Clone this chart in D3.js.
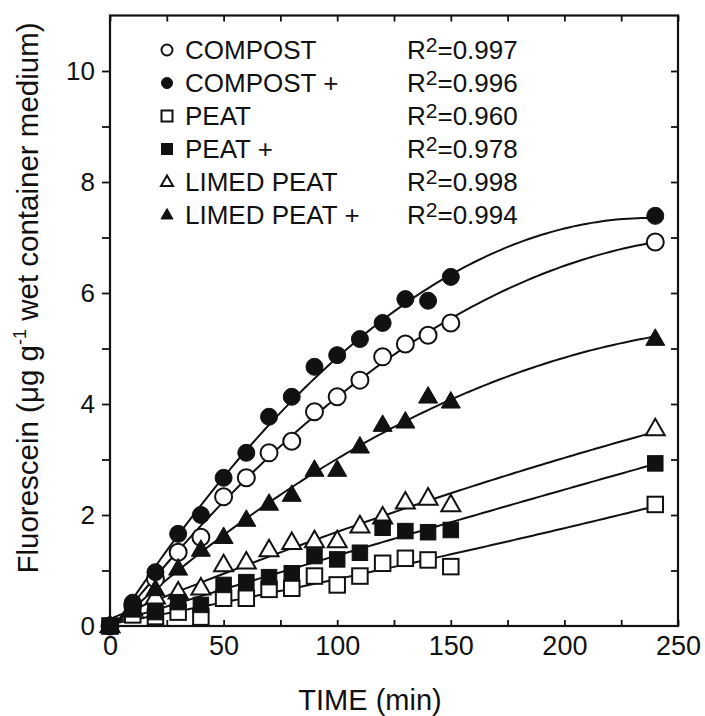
<!DOCTYPE html>
<html>
<head>
<meta charset="utf-8">
<script src="https://cdn.jsdelivr.net/npm/d3@7"></script>
<style>
  body { margin: 0; background: #fff; }
  text { font-family: "Liberation Sans", Arial, sans-serif; fill: #111; }
</style>
</head>
<body>
<div id="chart"></div>
<script>
// sampling times (min)
const times = [0, 10, 20, 30, 40, 50, 60, 70, 80, 90, 100, 110, 120, 130, 140, 150, 240]

// fluorescein values
const compost      = [0, 0.38, 0.85, 1.33, 1.60, 2.33, 2.67, 3.12, 3.33, 3.86, 4.13, 4.43, 4.85, 5.08, 5.24, 5.46, 6.92]
const compostPlus  = [0, 0.42, 0.97, 1.66, 2.00, 2.67, 3.12, 3.77, 4.13, 4.67, 4.88, 5.17, 5.46, 5.89, 5.86, 6.29, 7.39]
const peat         = [0, 0.20, 0.17, 0.25, 0.16, 0.50, 0.50, 0.66, 0.68, 0.90, 0.74, 0.90, 1.13, 1.22, 1.19, 1.07, 2.19]
const peatPlus     = [0, 0.30, 0.25, 0.43, 0.38, 0.74, 0.79, 0.88, 0.95, 1.26, 1.20, 1.32, 1.77, 1.71, 1.69, 1.73, 2.93]
const limedPeat    = [0, 0.30, 0.52, 0.61, 0.68, 1.10, 1.15, 1.37, 1.50, 1.53, 1.53, 1.80, 1.96, 2.23, 2.30, 2.18, 3.55]
const limedPeatPlus= [0, 0.32, 0.66, 1.03, 1.37, 1.60, 1.91, 2.20, 2.36, 2.81, 2.81, 3.23, 3.62, 3.68, 4.13, 4.04, 5.17]

const seriesNames = ["COMPOST", "COMPOST +", "PEAT", "PEAT +", "LIMED PEAT", "LIMED PEAT +"]
const seriesShapes = ["circle", "circle", "square", "square", "triangle", "triangle"]
const seriesFilled = [false, true, false, true, false, true]
const rSquared = ["0.997", "0.996", "0.960", "0.978", "0.998", "0.994"]
const seriesValues = [compost, compostPlus, peat, peatPlus, limedPeat, limedPeatPlus]

const xTicks = [0, 25, 50, 75, 100, 125, 150, 175, 200, 225, 250]
const yTicks = [0, 1, 2, 3, 4, 5, 6, 7, 8, 9, 10, 11]

const MARGIN = {TOP: 15.5, RIGHT: 27, BOTTOM: 90, LEFT: 110}
const WIDTH = 705 - MARGIN.LEFT - MARGIN.RIGHT
const HEIGHT = 716 - MARGIN.TOP - MARGIN.BOTTOM

const svg = d3.select("#chart").append("svg")
  .attr("width", 705)
  .attr("height", 716)

const g = svg.append("g")
  .attr("transform", `translate(${MARGIN.LEFT}, ${MARGIN.TOP})`)

const x = d3.scaleLinear().domain([0, 250]).range([0, WIDTH])
const y = d3.scaleLinear().domain([0, 11]).range([HEIGHT, 0])

// bottom axis: ticks point inward, labels every 50
g.append("g")
  .attr("transform", `translate(0, ${HEIGHT})`)
  .call(d3.axisBottom(x).tickValues(xTicks).tickSizeInner(-6).tickSizeOuter(0).tickPadding(8)
    .tickFormat(function(d) { return d % 50 === 0 ? d : "" }))
  .call(a => a.select(".domain").remove())
  .selectAll("text").attr("font-size", "27px").attr("dy", "0.78em")

// top axis ticks (inward)
g.append("g")
  .call(d3.axisTop(x).tickValues(xTicks).tickSizeInner(-6).tickSizeOuter(0).tickFormat(""))
  .call(a => a.select(".domain").remove())

// left axis: outward ticks, labels every 2
g.append("g")
  .call(d3.axisLeft(y).tickValues(yTicks.slice(0, 11)).tickSizeInner(8).tickSizeOuter(0).tickPadding(7)
    .tickFormat(function(d) { return d % 2 === 0 ? d : "" }))
  .call(a => a.select(".domain").remove())
  .selectAll("text").attr("font-size", "26px")

// right axis ticks (inward)
g.append("g")
  .attr("transform", `translate(${WIDTH}, 0)`)
  .call(d3.axisRight(y).tickValues(yTicks.slice(1, 11)).tickSizeInner(-7).tickSizeOuter(0).tickFormat(""))
  .call(a => a.select(".domain").remove())

g.selectAll(".tick line").attr("stroke", "#111").attr("stroke-width", 1.8)

// frame
g.append("rect")
  .attr("width", WIDTH)
  .attr("height", HEIGHT)
  .attr("fill", "none")
  .attr("stroke", "#111")
  .attr("stroke-width", 2.2)

// axis titles
g.append("text")
  .attr("x", WIDTH / 2 - 24)
  .attr("y", HEIGHT + 84)
  .attr("font-size", "29px")
  .attr("text-anchor", "middle")
  .text("TIME (min)")

const yTitle = svg.append("text")
  .attr("transform", "translate(38, 298) rotate(-90)")
  .attr("font-size", "29.5px")
  .attr("text-anchor", "middle")
yTitle.append("tspan").text("Fluorescein (\u03BCg g")
yTitle.append("tspan").attr("font-size", "18px").attr("dy", -12).text("-1")
yTitle.append("tspan").attr("dy", 12).text(" wet container medium)")

// quadratic least-squares fit used for the trend lines
function quadFit(xs, ys) {
  let s = [0, 0, 0, 0, 0], t = [0, 0, 0]
  xs.forEach(function(xv, i) {
    for (let k = 0; k < 5; k++) s[k] += Math.pow(xv, k)
    for (let k = 0; k < 3; k++) t[k] += ys[i] * Math.pow(xv, k)
  })
  const m = [[s[0], s[1], s[2], t[0]], [s[1], s[2], s[3], t[1]], [s[2], s[3], s[4], t[2]]]
  for (let i = 0; i < 3; i++) {
    for (let j = i + 1; j < 3; j++) {
      const f = m[j][i] / m[i][i]
      for (let k = i; k < 4; k++) m[j][k] -= f * m[i][k]
    }
  }
  const c = [0, 0, 0]
  for (let i = 2; i >= 0; i--) {
    let v = m[i][3]
    for (let k = i + 1; k < 3; k++) v -= m[i][k] * c[k]
    c[i] = v / m[i][i]
  }
  return function(xv) { return c[0] + c[1] * xv + c[2] * xv * xv }
}

const line = d3.line()
  .x(function(d) { return x(d[0]) })
  .y(function(d) { return y(d[1]) })

const tSamples = d3.range(0, 240.1, 2)
seriesValues.forEach(function(vals) {
  const f = quadFit(times, vals)
  g.append("path")
    .datum(tSamples.map(function(t) { return [t, f(t)] }))
    .attr("d", line)
    .attr("fill", "none")
    .attr("stroke", "#111")
    .attr("stroke-width", 2)
})

function marker(sel, shape, filled, size) {
  let p
  if (shape === "circle") {
    p = sel.append("circle").attr("r", size / 2)
  } else if (shape === "square") {
    p = sel.append("rect").attr("x", -size / 2).attr("y", -size / 2).attr("width", size).attr("height", size)
  } else {
    const h = size * 0.87
    p = sel.append("path").attr("d", `M0,${-h * 0.62}L${size / 2},${h * 0.38}L${-size / 2},${h * 0.38}Z`)
  }
  p.attr("fill", filled ? "#111" : "#fff")
    .attr("stroke", "#111")
    .attr("stroke-width", filled ? 1 : 2)
}

const drawOrder = [0, 2, 4, 5, 1, 3]
const markerSize = {circle: 17, square: 15.5, triangle: 19}
drawOrder.forEach(function(si) {
  seriesValues[si].forEach(function(v, i) {
    const mg = g.append("g").attr("transform", `translate(${x(times[i])}, ${y(v)})`)
    marker(mg, seriesShapes[si], seriesFilled[si], markerSize[seriesShapes[si]])
  })
})

// legend
const legendSize = {circle: 11, square: 11, triangle: 12}
seriesNames.forEach(function(name, i) {
  const cy = 50 + i * 33 - MARGIN.TOP
  const lg = g.append("g").attr("transform", `translate(57, ${cy})`)
  marker(lg, seriesShapes[i], seriesFilled[i], legendSize[seriesShapes[i]])
  g.append("text")
    .attr("x", 75)
    .attr("y", cy + 9)
    .attr("font-size", "26px")
    .text(name)
  const rt = g.append("text")
    .attr("x", 297)
    .attr("y", cy + 9)
    .attr("font-size", "26px")
  rt.append("tspan").text("R")
  rt.append("tspan").attr("font-size", "21px").attr("dy", -7).text("2")
  rt.append("tspan").attr("dy", 7).text("=" + rSquared[i])
})
</script>
</body>
</html>
